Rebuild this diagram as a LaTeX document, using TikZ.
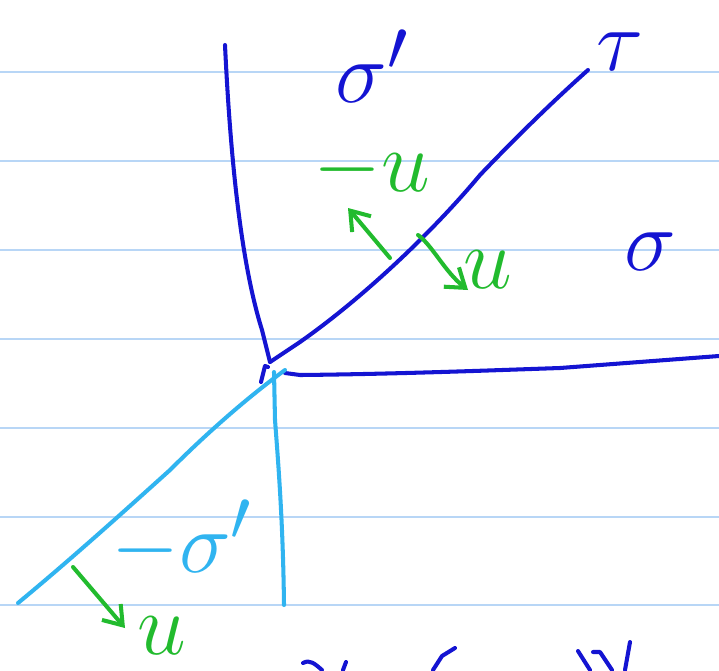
\documentclass[tikz,border=0pt]{standalone}
\usetikzlibrary{arrows.meta}
\definecolor{rule}{HTML}{B8D6F6}
\definecolor{dblue}{HTML}{1414D2}
\definecolor{lblue}{HTML}{30B4F0}
\definecolor{gr}{HTML}{22BB2E}
\tikzset{
  ruled/.style={rule, line width=1.1pt},
  ink/.style={line width=2.3pt, line cap=round, line join=round},
  arr/.style={ink, gr, -{Straight Barb[length=10pt,width=14pt,line width=2.3pt]}},
  lab/.style={font=\Huge, scale=2.0, inner sep=0pt},
}
\begin{document}
\begin{tikzpicture}[x=0.02cm,y=-0.02cm]
\useasboundingbox (0,0) rectangle (719,670);
\fill[white] (0,0) rectangle (719,670);
% ruled paper lines
\foreach \yy in {72,161,250,339,428,517,605}
  \draw[ruled] (0,\yy) -- (719,\yy);

% coordinates
\coordinate (O) at (270,362);
\coordinate (Vtop) at (225,45);
\coordinate (Ttop) at (588,70);
\coordinate (Hs) at (285,373);
\coordinate (He) at (719,356);
\coordinate (Lo) at (285,370);
\coordinate (Le) at (18,603);
\coordinate (Vs) at (274,372);
\coordinate (Ve) at (284,605);

% dark blue axes
\draw[ink, dblue] (Vtop) .. controls (230,150) and (240,260) .. (262,330) -- (O);
\draw[ink, dblue] (O) -- (300,342) .. controls (360,300) and (430,235) .. (480,175) .. controls (525,128) and (560,95) .. (Ttop);
\draw[ink, dblue] (Hs) -- (300,375) .. controls (400,374) and (500,370) .. (560,368) -- (He);
\draw[ink, dblue] (261,382) -- (265,366) -- (268,367);

% light blue lines
\draw[ink, lblue] (Lo) .. controls (255,392) and (215,425) .. (170,470) .. controls (120,515) and (70,560) .. (Le);
\draw[ink, lblue] (Vs) -- (275,420) .. controls (278,460) and (283,520) .. (Ve);

% green arrows
\coordinate (a1s) at (390,258); \coordinate (a1e) at (348,208);
\coordinate (a2s) at (418,235); \coordinate (a2e) at (468,290);
\coordinate (a3s) at (73,567); \coordinate (a3e) at (125,628);
\draw[arr] (a1s) -- (a1e);
\draw[arr] (a2s) .. controls (432,245) and (445,272) .. (a2e);
\draw[arr] (a3s) -- (a3e);

% labels
\node[lab, dblue, text depth=0pt] (sigp) at (372,66) {$\sigma'$};
\node[lab, dblue] (tau) at (620,52) {$\tau$};
\node[lab, dblue] (sig) at (650,252) {$\sigma$};
\node[lab, gr] (mu) at (372,170) {$-u$};
\node[lab, gr] (u1) at (488,270) {$u$};
\node[lab, lblue] (msigp) at (182,540) {$-\sigma'$};
\node[lab, gr] (u2) at (162,636) {$u$};

% cut-off strokes at bottom edge
\draw[ink, dblue] (303,663) .. controls (310,659) and (315,664) .. (322,670);
\draw[ink, dblue] (343,670) -- (346,662);
\draw[ink, dblue] (433,670) -- (442,656) -- (455,648);
\draw[ink, dblue] (578,651) -- (590,670);
\draw[ink, dblue] (593,652) -- (600,652) -- (612,670);
\draw[ink, dblue] (630,642) -- (625,670);
\end{tikzpicture}
\end{document}
